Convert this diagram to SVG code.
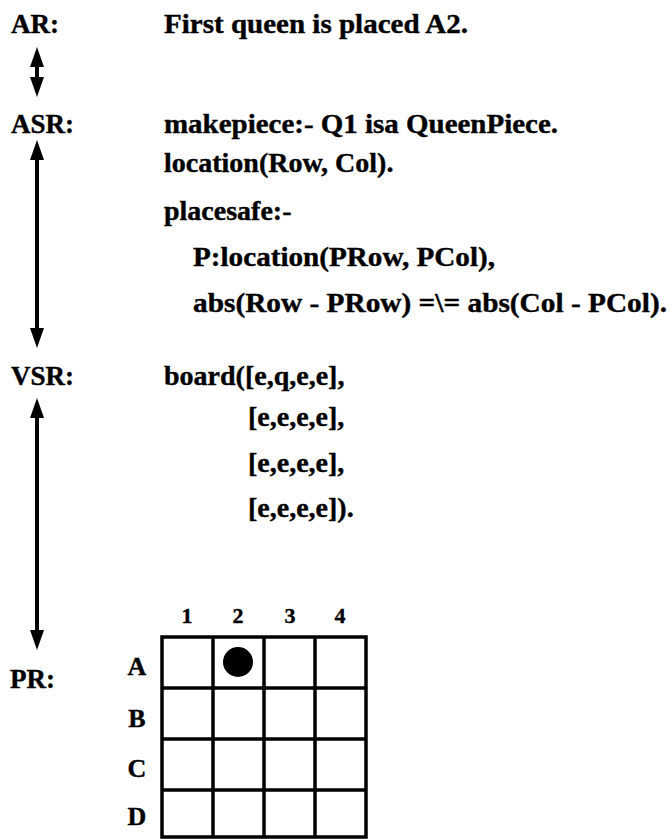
<svg xmlns="http://www.w3.org/2000/svg" width="672" height="839" viewBox="0 0 672 839">
<style>
text{font-family:"Liberation Serif","Times New Roman",serif;font-weight:bold;fill:#000;stroke:#000;stroke-width:0.4}
.lbl{font-size:27px}
.code{font-size:28px}
.grid{font-size:26px;text-anchor:middle}
.num{font-size:22px;text-anchor:middle}
.shaft{stroke:#000;stroke-width:4;fill:none}
.cell{stroke:#000;stroke-width:3.5;fill:none}
</style>
<defs>
<marker id="ah" viewBox="0 -7 20 14" refX="0" refY="0" markerWidth="20" markerHeight="14" markerUnits="userSpaceOnUse" orient="auto-start-reverse">
<path d="M0,-7 L20,0 L0,7 z" fill="#000"/>
</marker>
</defs>
<rect width="672" height="839" fill="#fff"/>
<g id="AR">
<text class="lbl" x="11" y="33">AR:</text>
<text class="code" x="164" y="33" textLength="304" lengthAdjust="spacingAndGlyphs">First queen is placed A2.</text>
</g>
<g id="ASR">
<text class="lbl" x="11" y="133">ASR:</text>
<text class="code" x="164" y="133" textLength="394" lengthAdjust="spacingAndGlyphs">makepiece:- Q1 isa QueenPiece.</text>
<text class="code" x="164" y="172">location(Row, Col).</text>
<text class="code" x="164" y="220">placesafe:-</text>
<text class="code" x="193" y="266" textLength="302" lengthAdjust="spacingAndGlyphs">P:location(PRow, PCol),</text>
<text class="code" x="193" y="312" textLength="474" lengthAdjust="spacingAndGlyphs">abs(Row - PRow) =\= abs(Col - PCol).</text>
</g>
<g id="VSR">
<text class="lbl" x="11" y="385">VSR:</text>
<text class="code" x="164" y="385">board([e,q,e,e],</text>
<text class="code" x="248" y="426">[e,e,e,e],</text>
<text class="code" x="248" y="472">[e,e,e,e],</text>
<text class="code" x="248" y="517">[e,e,e,e]).</text>
</g>
<g id="PR">
<text class="lbl" x="10" y="688">PR:</text>
<text class="num" x="187" y="623">1</text>
<text class="num" x="238" y="623">2</text>
<text class="num" x="290" y="623">3</text>
<text class="num" x="340" y="623">4</text>
<text class="grid" x="137" y="675">A</text>
<text class="grid" x="137" y="727">B</text>
<text class="grid" x="137" y="777">C</text>
<text class="grid" x="137" y="825">D</text>
<rect class="cell" x="162" y="637" width="204" height="200"/>
<path class="cell" d="M213,637V837M264,637V837M315,637V837M162,688H366M162,739H366M162,790H366"/>
<circle cx="238" cy="662" r="15" fill="#000"/>
</g>
<g id="connectors">
<line class="shaft" x1="37" y1="67" x2="37" y2="77" marker-start="url(#ah)" marker-end="url(#ah)"/>
<line class="shaft" x1="37" y1="160" x2="37" y2="328" marker-start="url(#ah)" marker-end="url(#ah)"/>
<line class="shaft" x1="37" y1="418" x2="37" y2="630" marker-start="url(#ah)" marker-end="url(#ah)"/>
</g>
</svg>
